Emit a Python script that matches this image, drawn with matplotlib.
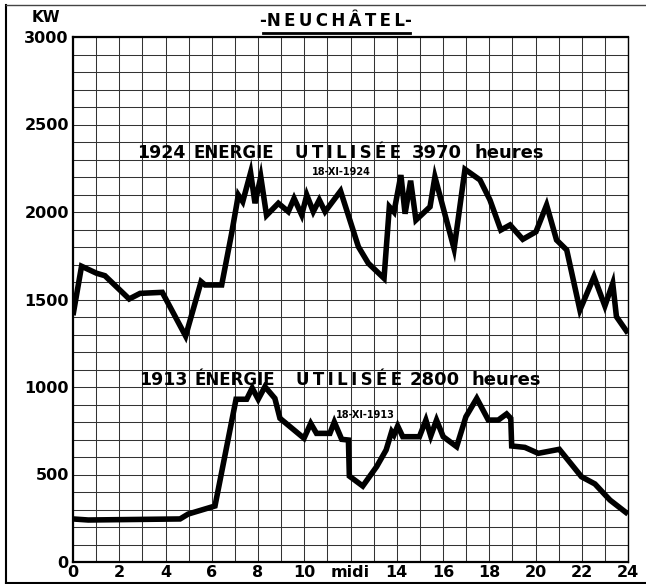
import matplotlib
matplotlib.use("Agg")
import matplotlib.pyplot as plt
from matplotlib.lines import Line2D
import numpy as np

# Load curve of 18 November, Neuchâtel: hour of day -> kW
hours_1924 = [0.0, 0.37, 1.02, 1.38, 2.43, 2.9, 3.86, 4.87, 5.54, 5.71, 6.43, 6.86,
              7.15, 7.34, 7.68, 7.87, 8.12, 8.37, 8.88, 9.31, 9.56, 9.89, 10.11,
              10.39, 10.65, 10.9, 11.57, 12.34, 12.77, 13.45, 13.68, 13.88, 14.18,
              14.36, 14.6, 14.83, 15.44, 15.65, 16.48, 16.95, 17.6, 18.03, 18.5,
              18.9, 19.45, 20.02, 20.48, 20.91, 21.35, 21.92, 22.53, 23.0, 23.34,
              23.5, 24.0]
kw_1924 = [1410, 1690, 1650, 1636, 1503, 1535, 1541, 1291, 1602, 1583, 1583, 1878,
           2097, 2059, 2225, 2050, 2201, 1981, 2050, 2002, 2078, 1983, 2097,
           2002, 2069, 2002, 2120, 1802, 1707, 1621, 2030, 2000, 2211,
           1990, 2179, 1954, 2030, 2201, 1790, 2244, 2183, 2069, 1897,
           1926, 1844, 1887, 2040, 1840, 1783, 1440, 1630, 1463, 1592,
           1402, 1307]

hours_1913 = [0.0, 0.66, 4.63, 4.98, 6.14, 7.05, 7.51, 7.75, 8.01, 8.3, 8.73, 8.95,
              9.99, 10.28, 10.53, 11.11, 11.3, 11.62, 11.91, 11.95, 12.53, 13.13,
              13.54, 13.78, 13.88, 14.04, 14.26, 14.98, 15.26, 15.47, 15.72, 16.01,
              16.59, 16.99, 17.46, 17.96, 18.39, 18.75, 18.93, 18.97, 19.54, 20.12,
              21.03, 21.99, 22.57, 23.22, 24.0]
kw_1913 = [246, 240, 246, 274, 320, 930, 930, 994, 930, 1002, 935, 821,
           707, 792, 735, 735, 800, 701, 697, 491, 434, 545,
           640, 745, 726, 777, 716, 716, 811, 720, 811, 716,
           659, 830, 935, 811, 811, 846, 821, 663, 655, 621,
           644, 487, 446, 354, 274]

x_ticks = np.arange(0, 25, 1)
x_labels = ["midi" if h == 12 else (str(h) if h % 2 == 0 else "") for h in x_ticks]
y_ticks = np.arange(0, 3001, 100)
y_labels = [str(v) if v % 500 == 0 else "" for v in y_ticks]

W, H = 646, 584
fig = plt.figure(figsize=(W / 100, H / 100), dpi=100)
fig.patch.set_facecolor("white")

x0, x1, ytop, ybot = 73, 628, 37, 562
ax = fig.add_axes([x0 / W, (H - ybot) / H, (x1 - x0) / W, (ybot - ytop) / H])
ax.set_xlim(0, 24)
ax.set_ylim(0, 3000)

ax.set_xticks(x_ticks)
ax.set_xticklabels(x_labels)
ax.set_yticks(y_ticks)
ax.set_yticklabels(y_labels)
ax.tick_params(length=0, pad=3, labelsize=11.5, colors="black")
for lab in ax.get_xticklabels() + ax.get_yticklabels():
    lab.set_fontweight("bold")
ax.tick_params(axis="x", pad=2)
ax.grid(True, color="#333333", linewidth=0.75)
ax.set_axisbelow(True)
for side, spn in ax.spines.items():
    spn.set_linewidth(1.6 if side in ("left", "bottom", "top") else 1.0)
    spn.set_color("black")

line_kw = dict(color="black", linewidth=4.0, solid_joinstyle="miter",
               solid_capstyle="butt", zorder=3)
ax.plot(hours_1924, kw_1924, **line_kw)
ax.plot(hours_1913, kw_1913, **line_kw)

sp = "\u2009"


# Caption over each curve: year, two words, hours of use
def caption(year, word1, word2, hours, pos):
    xs, base = pos[:-1], pos[-1]
    parts = [(year, 12.5), (word1, 12), (sp.join(word2), 12), (hours, 13), ("heures", 13)]
    for (txt, size), x in zip(parts, xs):
        ax.text(x, base, txt, fontsize=size, fontweight="bold",
                ha="left", va="baseline", zorder=4)


caption("1924", "ENERGIE", "UTILISÉE", "3970",
        (2.78, 5.2, 9.6, 14.66, 17.38, 2309))
caption("1913", "ÉNERGIE", "UTILISÉE", "2800",
        (2.85, 5.24, 9.64, 14.57, 17.25, 1011))

ax.text(11.59, 2229, "18-XI-1924", fontsize=7, fontweight="bold",
        ha="center", va="center", zorder=4)
ax.text(12.63, 840, "18-XI-1913", fontsize=7, fontweight="bold",
        ha="center", va="center", zorder=4)

# Unit label and title
fig.text(46 / W, 1 - 18 / H, "KW", fontsize=11, fontweight="bold",
         ha="center", va="center")
fig.text(336 / W, 1 - 21 / H, "-" + sp.join("NEUCHÂTEL") + "-", fontsize=12,
         fontweight="bold", ha="center", va="center")
fig.add_artist(Line2D([263 / W, 410 / W], [1 - 33 / H, 1 - 33 / H],
                      color="black", linewidth=2))

# Sheet edges
fig.add_artist(Line2D([6 / W, 6 / W], [0, 1 - 5 / H], color="black", linewidth=1.5))
fig.add_artist(Line2D([6 / W, 1], [1 - 5 / H, 1 - 5 / H], color="#444444", linewidth=1))
fig.add_artist(Line2D([6 / W, 1], [1 / H, 1 / H], color="black", linewidth=1.5))

fig.savefig("out.png", dpi=100, facecolor="white")
